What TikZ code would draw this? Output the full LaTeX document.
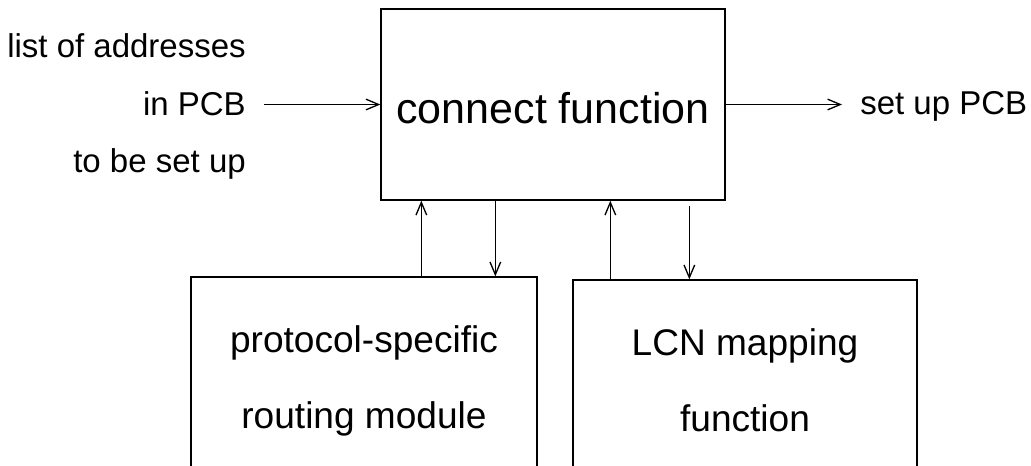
\documentclass[tikz,border=0pt]{standalone}
\usepackage{fontspec}
\setmainfont{Liberation Sans}
\usetikzlibrary{arrows.meta,calc}

% fixed line heights for the two-line blocks
\newcommand{\upstrut}{\rule{0pt}{22pt}}
\newcommand{\downstrut}{\rule[-15.25pt]{0pt}{0pt}}

\tikzset{
  block/.style={draw, line width=1pt, inner sep=0pt, align=center},
  flow/.style={line width=1pt, -{Straight Barb[length=9.5pt,width=8pt]}},
  side/.style={inner xsep=13.5pt, inner ysep=0pt, font=\fontsize{24.75}{30}\selectfont},
}

\begin{document}
\begin{tikzpicture}[x=0.75pt,y=-0.75pt]
    \useasboundingbox (0,0) rectangle (1031,465);
    \clip (0,0) rectangle (1031,465);
    % main block
    \node[block, minimum width=258pt, minimum height=143.25pt,
      text height=30pt, text depth=2.25pt,
      font=\fontsize{32.25}{38}\selectfont] (conn) at (553,104.5) {connect function};
    % lower blocks, cut at the page edge
    \node[block, minimum width=259.5pt, minimum height=162.75pt,
      font=\fontsize{27.8}{57}\selectfont] (route) at (364,385.5)
      {\upstrut protocol-specific\\routing module\downstrut};
    \node[block, minimum width=258pt, minimum height=162.75pt,
      font=\fontsize{27.8}{57}\selectfont] (lcn) at (745,388.5)
      {\upstrut LCN mapping\\function\downstrut};
    % input and output
    \node[side, anchor=base east] (addr) at (264,57) {list of addresses};
    \node[side, anchor=base east] (inpcb) at (264,115) {in PCB};
    \node[side, anchor=base east] (tobe) at (264,172) {to be set up};
    \node[side, anchor=base west] (outpcb) at (842,114) {set up PCB};
    \draw[flow] (inpcb.east |- conn.west) -- (conn.west);
    \draw[flow] (conn.east) -- (conn.east -| outpcb.west);
    % links to the lower blocks
    \coordinate (a1) at ($(conn.south west)+(41,0)$);
    \coordinate (a2) at ($(conn.south west)+(115,0)$);
    \coordinate (a3) at ($(conn.south west)+(230,0)$);
    \coordinate (a4) at ($(conn.south west)+(309,0)$);
    \draw[flow] (a1 |- route.north) -- (a1);
    \draw[flow] (a2) -- (a2 |- route.north);
    \draw[flow] (a3 |- lcn.north) -- (a3);
    \draw[flow, shorten <=3.75pt] (a4) -- (a4 |- lcn.north);
\end{tikzpicture}
\end{document}
